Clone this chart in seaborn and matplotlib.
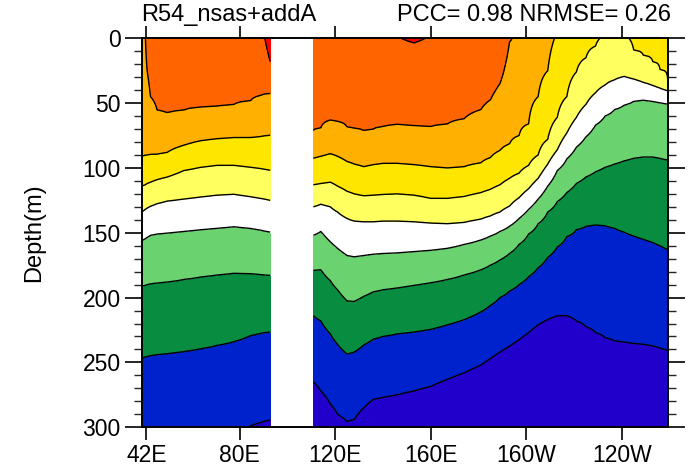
import numpy as np
import matplotlib
matplotlib.use("Agg")
import matplotlib.pyplot as plt
from matplotlib.ticker import MultipleLocator
import seaborn as sns

sns.set_theme(style="ticks")
plt.rcParams['font.family'] = ['Liberation Sans', 'DejaVu Sans']
plt.rcParams['text.color'] = 'black'
plt.rcParams['axes.labelcolor'] = 'black'

# contour levels (isotherms) and fill colours (coldest -> warmest)
levels = [12, 14, 16, 18, 20, 22, 24, 26, 28]
fill_colors = ['#2200CC', '#0022CC', '#088C40', '#6AD26E', '#FFFFFF',
               '#FFFF60', '#FFE600', '#FFB000', '#FF6400', '#FF0000']

# ---- depths (m) of each isotherm, western segment ----
lon_west = [39.0, 40.5, 41.3, 42.7, 45.5, 49.7, 56.7, 63.7, 70.6, 77.6, 84.6, 88.8, 90.3, 92.8]
west_28 = [-50, -30, -30, -30, -30, -30, -30, -30, -30, -30, -30, -30, -2, 18]
west_26 = [-30, -5, 25, 45, 55.5, 57.5, 55.5, 53, 52.5, 51, 48, 44, 43, 42.5]
west_24 = [91, 90.5, 90, 89.7, 89.5, 88, 82.5, 79, 77.5, 76.6, 76.6, 75.8, 75.3, 74.8]
west_22 = [114, 113, 112, 111, 109, 107, 102, 99.5, 98, 98, 99.5, 100.5, 101, 101.8]
west_20 = [134, 132, 131, 129.5, 127.5, 125.5, 124, 122.4, 121, 120.3, 122.2, 123.5, 124, 125]
west_18 = [156, 154.5, 153.5, 152, 151, 150.2, 149, 147.6, 146.5, 145.3, 146.6, 148, 148.6, 149.4]
west_16 = [191, 190.5, 190, 189.3, 188.7, 188, 186, 184.1, 182.5, 181.2, 181.5, 182.2, 182.5, 182.8]
west_14 = [246.5, 245.8, 245.3, 244.7, 244, 243.2, 241.5, 239.4, 236.8, 234, 229.3, 227.5, 227, 226.5]
west_12 = [330, 330, 330, 330, 330, 330, 330, 330, 325, 315, 299, 296.5, 295.5, 294.5]

# ---- eastern segment ----
lon_east = [110.9, 114, 118, 121, 125, 128, 132, 136, 140, 146, 153, 160, 167, 174, 181,
            185, 189, 193, 197, 201, 205, 209, 213, 217, 221, 225, 229, 233, 237, 241,
            245, 249, 253, 256, 259.2]
east_28 = [-15, -15, -15, -15, -15, -15, -15, -15, -15, -2, 3.5, -3, -15, -15, -15,
           -15, -15, -20, -60, -100, -120, -130, -140, -150, -150, -150, -150, -150, -150, -150,
           -150, -150, -150, -150, -150]
east_26 = [71, 69, 63, 64, 68.5, 69.5, 71, 70, 68, 66.5, 67.5, 68, 66, 62, 55,
           47.5, 35, 3, -40, -80, -100, -110, -120, -130, -130, -130, -130, -130, -130, -130,
           -130, -130, -130, -130, -130]
east_24 = [92.5, 91, 89, 91, 95, 97, 99, 97.5, 96.5, 96.5, 97.5, 99, 100, 99, 96,
           92, 86.5, 81.5, 75, 66, 45, 25, -5, -40, -70, -90, -90, -90, -90, -90,
           -90, -90, -90, -90, -90]
east_22 = [113, 112, 111, 114, 118, 120, 121.5, 121, 120.5, 120, 121, 123.5, 123.5, 122, 119,
           116.5, 113, 108, 104, 98, 90, 78, 61, 45, 26, 15, 6, -3, -8, -3,
           9, 13, 18, 24, 31]
east_20 = [130, 128, 130, 134, 139, 141, 141.5, 141.5, 141, 141, 141.5, 142.5, 143, 142, 139.5,
           137, 134, 129.5, 123, 116, 108, 97, 86, 73, 61, 51, 42, 36, 32, 29.5,
           31.5, 34, 36.5, 38.5, 40.5]
east_18 = [152, 149, 157, 162, 167.5, 168.5, 167.5, 166.5, 166, 165.5, 164.5, 163.5, 162, 159, 155.5,
           152.5, 149, 145, 139, 132, 124, 114, 102, 93, 84, 76, 67, 60, 55, 51.5,
           48.5, 47.5, 48.5, 49.5, 50.5]
east_16 = [179, 178.5, 187, 194, 202.5, 203, 199, 195.5, 194, 192.5, 190.5, 188.5, 186, 182.5, 178.5,
           175, 171, 166, 159, 151, 143, 134, 126, 119, 112, 107, 103, 99.5, 97, 94.5,
           92.5, 91.5, 91.5, 92.5, 94]
east_14 = [214, 218, 228, 236, 243.5, 242, 236.5, 232, 230, 228, 226.5, 224.5, 221, 217, 211,
           206, 200, 195, 190, 184, 177, 169, 161, 153, 147.5, 145, 144, 144.5, 146.5, 149.5,
           152.5, 155, 157.5, 160, 163]
east_12 = [265, 272, 282, 290, 295.5, 294, 285, 278.5, 277, 275, 272, 268.5, 263, 258, 252,
           247, 242, 237.5, 232.5, 227, 221, 217, 214, 214, 218, 222.5, 227, 231, 233.5, 234.5,
           235.5, 236, 237.5, 239, 241]

x_ticks = [41, 80, 120, 160, 200, 240]
x_labels = ["42E", "80E", "120E", "160E", "160W", "120W"]
y_ticks = [0, 50, 100, 150, 200, 250, 300]

title_left = "R54_nsas+addA"
title_right = "PCC= 0.98 NRMSE= 0.26"

depth = np.arange(0, 301, 1.0)


def field(lons, iso_by_level):
    """Temperature section whose isotherms sit at the read depths."""
    D = np.array(iso_by_level, float)          # (nlev, nlon), levels ascending
    temps = np.array(levels, float)[::-1]       # warm -> cold (depth increasing)
    T = np.empty((depth.size, len(lons)))
    for j in range(len(lons)):
        d = D[::-1, j]
        d_ext = np.concatenate([[d[0] - 40], d, [d[-1] + 40]])
        t_ext = np.concatenate([[temps[0] + 2], temps, [temps[-1] - 2]])
        T[:, j] = np.interp(depth, d_ext, t_ext)
    return T


fig = plt.figure(figsize=(6.91, 4.69), dpi=100)
ax = fig.add_axes([0.205, 0.089, 0.7612, 0.8294])

bounds = [0] + levels + [100]
segments = [
    (lon_west, [west_12, west_14, west_16, west_18, west_20, west_22, west_24, west_26, west_28]),
    (lon_east, [east_12, east_14, east_16, east_18, east_20, east_22, east_24, east_26, east_28]),
]
for lons, iso in segments:
    T = field(lons, iso)
    X, Y = np.meshgrid(lons, depth)
    ax.contourf(X, Y, T, levels=bounds, colors=fill_colors)
    ax.contour(X, Y, T, levels=levels, colors='black', linewidths=1.0)

ax.set_xlim(39.0, 259.2)
ax.set_ylim(300, 0)
ax.set_facecolor('white')

ax.set_xticks(x_ticks)
ax.set_xticklabels(x_labels)
ax.set_yticks(y_ticks)
ax.yaxis.set_minor_locator(MultipleLocator(10))

for side in ['left', 'right', 'top', 'bottom']:
    ax.spines[side].set_linewidth(1.4)
    ax.spines[side].set_color('black')

ax.tick_params(axis='x', which='major', direction='out', length=9, width=1.2,
               top=True, bottom=True, labelsize=16.5, pad=3, colors='black')
ax.tick_params(axis='x', which='minor', bottom=False, top=False)
ax.tick_params(axis='y', which='major', direction='out', length=12, width=1.2,
               left=True, right=True, labelsize=16.5, pad=3, colors='black')
ax.tick_params(axis='y', which='minor', direction='out', length=6, width=1.0,
               left=True, right=True)

ax.set_ylabel("Depth(m)", fontsize=17, color='black')
ax.yaxis.set_label_coords(-0.183, 0.5)

fig.text(141 / 691, 1 - 21 / 469, title_left, ha='left', va='baseline', fontsize=17, color='black')
fig.text(671 / 691, 1 - 21 / 469, title_right, ha='right', va='baseline', fontsize=17, color='black')

fig.savefig("out.png", dpi=100)
